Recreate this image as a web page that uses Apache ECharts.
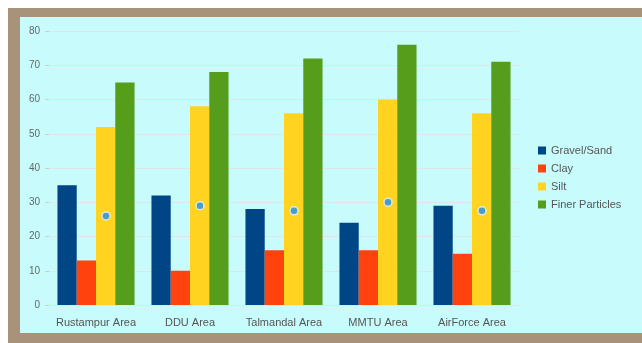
<!DOCTYPE html>
<html lang="en">
<head>
  <meta charset="UTF-8">
  <title>Soil composition</title>
  <style>
    html,body{margin:0;padding:0;background:#fff;}
    #frame{
      position:absolute;left:8px;top:8px;width:634px;height:316px;
      background:#c8fcfc;
      border-left:12px solid #a8927a;
      border-top:9px solid #a8927a;
      border-bottom:10px solid #a8927a;
    }
    #main{position:absolute;left:0;top:0;width:642px;height:343px;}
  </style>
</head>
<body>
  <div id="frame"></div>
  <div id="main"></div>
  <script src="https://cdn.jsdelivr.net/npm/echarts@6/dist/echarts.min.js"></script>
  <script>
    const areas=['Rustampur Area','DDU Area','Talmandal Area','MMTU Area','AirForce Area'];
    const gravelSand=[35,32,28,24,29];
    const clay=[13,10,16,16,15];
    const silt=[52,58,56,60,56];
    const finer=[65,68,72,76,71];
    const dots=[26,29,27.5,30,27.5];

    const chart=echarts.init(document.querySelector('#main'));
    const bar=(name,data,color)=>({
      name,type:'bar',data,barGap:0,barCategoryGap:'18%',
      itemStyle:{color}
    });
    chart.setOption({
      animation:false,
      textStyle:{fontFamily:'Liberation Sans'},
      grid:{left:49,right:123,top:31,bottom:38},
      legend:{
        orient:'vertical',left:533,top:140,
        data:['Gravel/Sand','Clay','Silt','Finer Particles'],
        icon:'rect',itemWidth:8,itemHeight:8,itemGap:7,
        textStyle:{fontSize:11,color:'#555'}
      },
      xAxis:{
        type:'category',data:areas,
        axisLine:{show:false},axisTick:{show:false},
        axisLabel:{fontSize:11,color:'#555',margin:12,interval:0}
      },
      yAxis:{
        type:'value',min:0,max:80,interval:10,
        axisLine:{show:false},
        axisTick:{show:true,length:4,lineStyle:{color:'#ccc'}},
        axisLabel:{fontSize:10,color:'#666',margin:9},
        splitLine:{lineStyle:{color:'#eadcdc',opacity:0.7}}
      },
      series:[
        bar('Gravel/Sand',gravelSand,'#004586'),
        bar('Clay',clay,'#ff420e'),
        bar('Silt',silt,'#ffd320'),
        bar('Finer Particles',finer,'#579d1c'),
        {
          name:'avg',type:'scatter',data:dots,
          symbolSize:8,symbolOffset:[10,0],
          itemStyle:{color:'#1e8ef0',borderColor:'#e8f6ff',borderWidth:1.5},
          z:5
        }
      ]
    });
  </script>
</body>
</html>
